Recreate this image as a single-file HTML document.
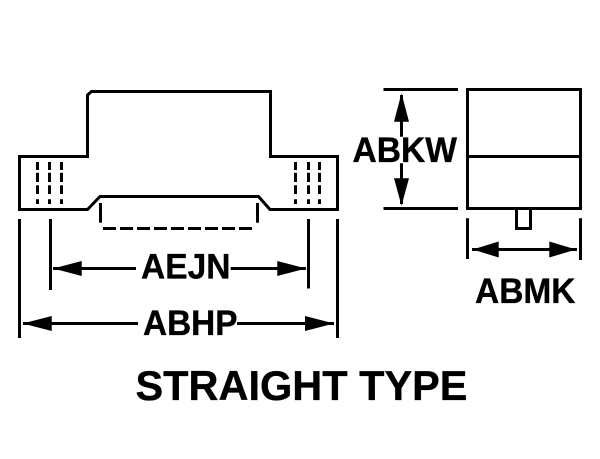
<!DOCTYPE html>
<html><head><meta charset="utf-8"><style>
html,body{margin:0;padding:0;background:#fff;width:600px;height:459px;overflow:hidden}
svg{display:block}
text{font-family:"Liberation Sans",Arial,sans-serif;font-weight:bold;font-size:35.5px;fill:#000;stroke:#000;stroke-width:.35}
</style></head><body>
<svg width="600" height="459" viewBox="0 0 600 459" xmlns="http://www.w3.org/2000/svg">
<rect width="600" height="459" fill="#fff"/>
<g fill="none" stroke="#000" stroke-width="3">
<path d="M19.5 156.5H87.5V95L91.5 91.5H270.5V156.5H337.5V209.5H270L258.5 196.5H100L87.5 209.5H19.5Z"/>
<path d="M100.5 203V222.7M257.5 203V222.7"/>
<path d="M103 228.5H254" stroke-dasharray="13 4"/>
<path d="M37.5 162V204M49.5 162V204M61.5 162V204M295.5 162V204M308.5 162V204M319.5 162V204" stroke-dasharray="8 2.7 9.3 3.3 8.7 5.3 4.7"/>
<path d="M19.5 219V338M50.5 219V290M308.5 219V288.5M337.5 219V338"/>
<path d="M383.5 89.5H458M383.5 208.5H458"/>
<path d="M467.5 89.5H580.5V208.5H467.5ZM467.5 156.5H580.5"/>
<path d="M516.5 208V228.5H530.5V208"/>
<path d="M467.5 218.3V259M580.5 218.3V260"/>
<path d="M53 268.5H136M230.7 268.5H306M23 323.5H138M237 323.5H334M472 249.5H577M401.5 95V136.7M401.5 163.3V204"/>
</g>
<g fill="#000">
<path d="M53.3 268.5L81.7 261V276ZM306 268.5L277.3 261V276Z"/>
<path d="M22.7 323.5L51.7 316V331ZM334 323.5L305 316V331Z"/>
<path d="M472.7 249.5L498.7 241.5V257.5ZM576 249.5L549.3 241.5V257.5Z"/>
<path d="M401.5 93.3L394 121.7H409ZM401.5 205.7L394 178.3H409Z"/>
</g>
<text x="352.5" y="162" textLength="104.5" lengthAdjust="spacingAndGlyphs">ABKW</text>
<text x="141" y="278.5" textLength="89.5" lengthAdjust="spacingAndGlyphs">AEJN</text>
<text x="143" y="335" textLength="94.5" lengthAdjust="spacingAndGlyphs">ABHP</text>
<text x="475" y="303" textLength="100.5" lengthAdjust="spacingAndGlyphs">ABMK</text>
<text x="135.5" y="400" textLength="332" lengthAdjust="spacingAndGlyphs" style="font-size:42px">STRAIGHT TYPE</text>
</svg>
</body></html>
